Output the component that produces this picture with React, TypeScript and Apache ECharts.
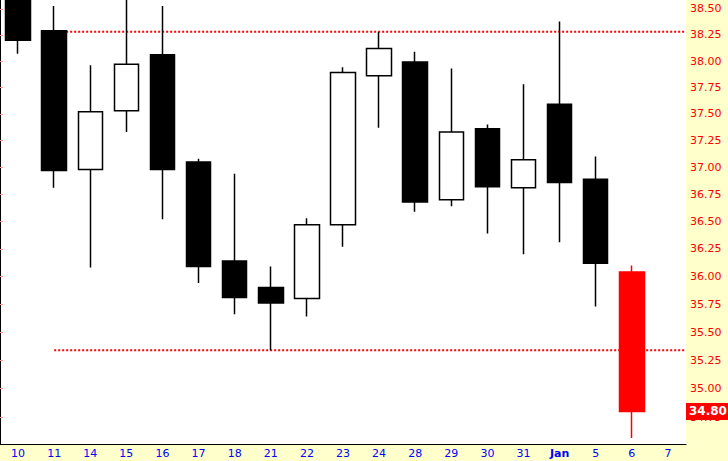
import React, { useEffect, useRef } from 'react';
import * as echarts from 'echarts';

const categories = ['10', '11', '14', '15', '16', '17', '18', '21', '22', '23', '24', '28', '29', '30', '31', 'Jan', '5', '6', '7'];
const openValues = [38.75, 38.29, 36.98, 37.53, 38.06, 37.05, 36.14, 35.9, 35.8, 36.47, 37.86, 37.99, 36.7, 37.36, 36.81, 37.59, 36.89, 36.04, null];
const closeValues = [38.2, 36.97, 37.52, 37.97, 36.98, 36.09, 35.81, 35.76, 36.47, 37.89, 38.12, 36.68, 37.33, 36.82, 37.07, 36.86, 36.12, 34.8, null];
const lowValues = [38.07, 36.81, 36.08, 37.33, 36.52, 35.94, 35.66, 35.34, 35.64, 36.27, 37.37, 36.59, 36.64, 36.39, 36.2, 36.31, 35.73, 34.57, null];
const highValues = [38.95, 38.53, 37.96, 38.7, 38.53, 37.08, 36.94, 36.09, 36.53, 37.94, 38.28, 38.09, 37.93, 37.4, 37.78, 38.38, 37.1, 36.1, null];
const yTickValues = [34.75, 35.0, 35.25, 35.5, 35.75, 36.0, 36.25, 36.5, 36.75, 37.0, 37.25, 37.5, 37.75, 38.0, 38.25, 38.5];
const resistanceLevel = 38.28;
const supportLevel = 35.34;
const levelStartCategory = '11';
const highlightCategory = '6';
const yMin = 34.517;
const yMax = 38.587;

const FONT = 'Tahoma, "DejaVu Sans", Verdana, sans-serif';

export default function App() {
  const ref = useRef<HTMLDivElement>(null);
  useEffect(() => {
    if (!ref.current) return;
    const chart = echarts.init(ref.current, null, { renderer: 'svg' });
    const hiIdx = categories.indexOf(highlightCategory);
    const candleData = categories.map((c, i) => {
      const o = openValues[i];
      if (o == null) return ['-', '-', '-', '-'];
      const v = [o, closeValues[i], lowValues[i], highValues[i]];
      if (i === hiIdx) {
        return {
          value: v,
          itemStyle: { color: '#ff0000', color0: '#ff0000', borderColor: '#ff0000', borderColor0: '#ff0000' },
        };
      }
      return v;
    });
    const lastClose = closeValues[hiIdx] as number;
    const startX = categories.indexOf(levelStartCategory) + 0.5;
    const endX = categories.length;
    const levelStyle = { color: '#ff0000', width: 2, type: [2, 2] as any };
    chart.setOption({
      animation: false,
      backgroundColor: '#ffffcc',
      textStyle: { fontFamily: FONT },
      grid: { left: 0, top: 0, right: 42, bottom: 17, show: true, backgroundColor: '#ffffff', borderWidth: 0 },
      xAxis: [
        {
          type: 'category',
          data: categories,
          boundaryGap: true,
          axisLine: { show: true, lineStyle: { color: '#000', width: 1 } },
          axisTick: { show: false },
          splitLine: { show: false },
          axisLabel: {
            color: '#0000ff',
            fontSize: 11,
            fontFamily: FONT,
            margin: 4,
            interval: 0,
            formatter: (v: string) => (v === 'Jan' ? '{b|Jan}' : v),
            rich: { b: { color: '#0000ff', fontWeight: 'bold', fontSize: 11, fontFamily: FONT } },
          },
        },
        { type: 'value', min: 0, max: categories.length, show: false },
      ],
      yAxis: {
        type: 'log',
        position: 'right',
        min: yMin,
        max: yMax,
        axisLine: { show: true, lineStyle: { color: '#000', width: 1 } },
        axisTick: { show: true, length: 3, lineStyle: { color: '#ff9999' }, customValues: yTickValues },
        splitLine: { show: false },
        axisLabel: {
          color: '#ff0000',
          fontSize: 11,
          fontFamily: FONT,
          margin: 4,
          customValues: yTickValues,
          formatter: (v: number) => v.toFixed(2),
        },
      },
      series: [
        {
          type: 'line',
          xAxisIndex: 1,
          data: [[startX, resistanceLevel], [endX, resistanceLevel]],
          symbol: 'none',
          lineStyle: levelStyle,
          z: 1,
          silent: true,
        },
        {
          type: 'line',
          xAxisIndex: 1,
          data: [[startX, supportLevel], [endX, supportLevel]],
          symbol: 'none',
          lineStyle: levelStyle,
          z: 1,
          silent: true,
        },
        {
          type: 'candlestick',
          xAxisIndex: 0,
          data: candleData,
          barWidth: 25,
          z: 3,
          itemStyle: {
            color: '#ffffff',
            color0: '#000000',
            borderColor: '#000000',
            borderColor0: '#000000',
            borderWidth: 1.5,
          },
        },
        {
          type: 'line',
          xAxisIndex: 1,
          data: [],
          clip: false,
          silent: true,
          z: 6,
          markLine: {
            silent: true,
            symbol: ['none', 'none'],
            lineStyle: { color: 'rgba(0,0,0,0)', width: 0, opacity: 1 },
            data: [{ yAxis: lastClose }],
            label: {
              show: true,
              opacity: 1,
              position: 'end',
              distance: 0,
              formatter: () => lastClose.toFixed(2),
              color: '#ffffff',
              backgroundColor: '#ff0000',
              fontWeight: 'bold',
              fontSize: 12,
              fontFamily: FONT,
              padding: [3, 8, 2, 3],
            },
          },
        },
      ],
    });
    return () => chart.dispose();
  }, []);
  return <div ref={ref} style={{ position: 'fixed', left: 0, top: 0, width: 728, height: 461 }} />;
}
